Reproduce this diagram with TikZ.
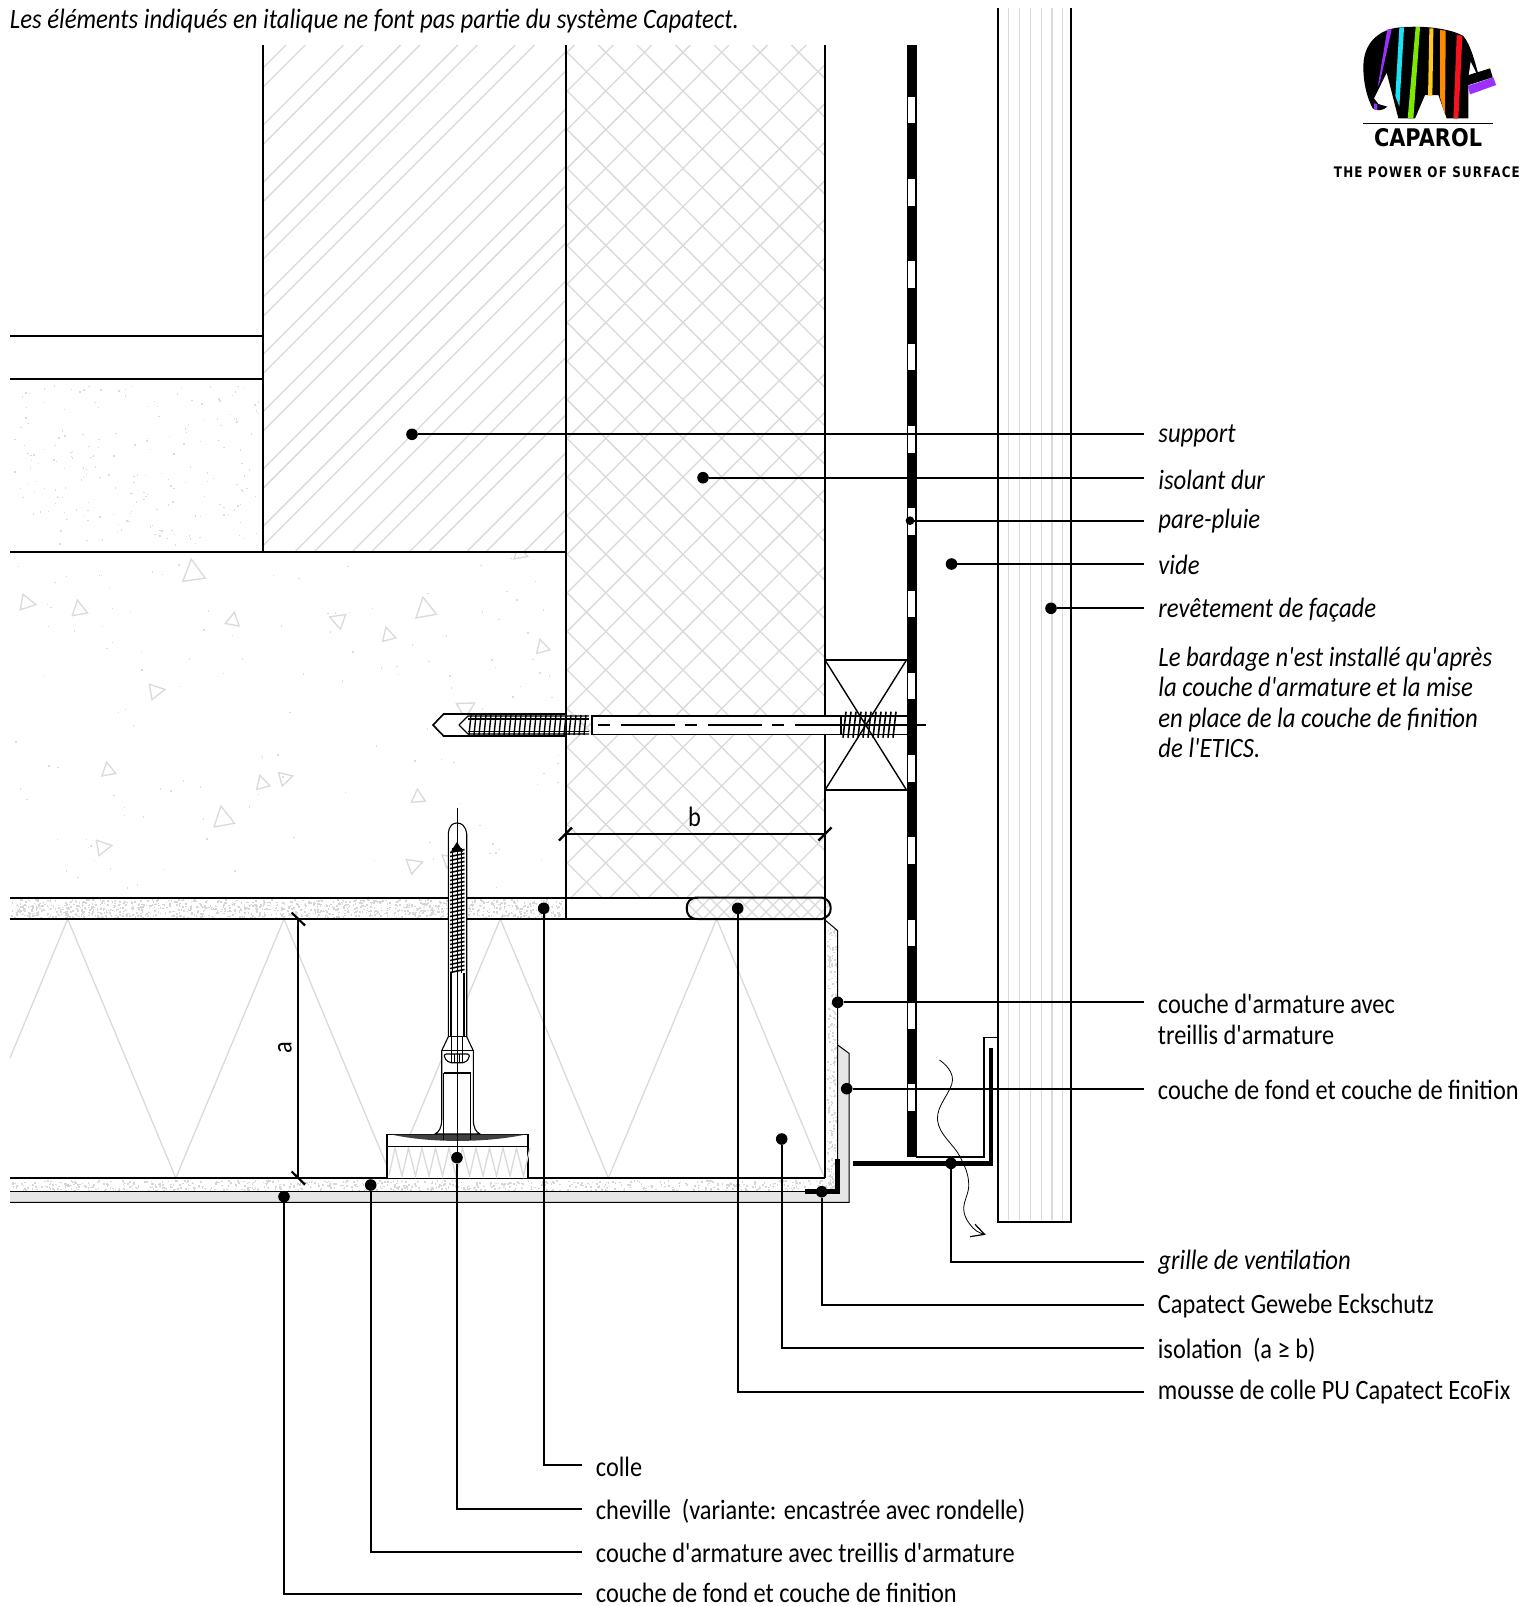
\documentclass[tikz,border=0pt]{standalone}
\usepackage{fontspec}
\usepackage{graphicx}
\setmainfont[FakeStretch=0.87,ItalicFeatures={FakeStretch=0.883},Ligatures=TeXOff]{Carlito}
\newfontfamily\logofont{DejaVu Sans}
\newfontfamily\sloganfont[LetterSpace=10]{DejaVu Sans}
\usetikzlibrary{calc}
\definecolor{hatchgray}{HTML}{DADADA}
\definecolor{speckgray}{HTML}{D6D6D6}
\definecolor{sparsegray}{HTML}{DCDCDC}
\definecolor{finishgray}{HTML}{E6E6E6}
\definecolor{logopurple}{HTML}{9B30FF}
\definecolor{logocyan}{HTML}{19E3F5}
\definecolor{logogreen}{HTML}{7FE800}
\definecolor{logoyellow}{HTML}{FFC81E}
\definecolor{logoorange}{HTML}{FF8A00}
\definecolor{logored}{HTML}{F5141E}
\tikzset{
  ol/.style={line width=1pt,draw=black},
  thinl/.style={line width=.5pt,draw=black},
  hair/.style={line width=.4pt,draw=black},
  lead/.style={line width=.85pt,draw=black},
  hatchl/.style={line width=.65pt,draw=hatchgray},
  heavy/.style={line width=2.4pt,draw=black},
  dotn/.style={circle,fill=black,inner sep=0pt,outer sep=0pt,minimum size=5.8pt},
  lab/.style={inner xsep=7pt,inner ysep=0pt,anchor=base west,yshift=-.75pt,font=\fontsize{14}{16}\selectfont},
  ilab/.style={lab,font=\fontsize{14}{16}\selectfont\itshape},
  tri/.style={line width=.65pt,draw=hatchgray}
}
\newcommand\specks[7]{\foreach \i in {1,...,#5}{\pgfmathsetmacro\sx{#1+rnd*(#2-#1)}\pgfmathsetmacro\sy{#3+rnd*(#4-#3)}\fill[#6] (\sx,\sy) rectangle ++(#7,#7);}}
\newcommand\triang[4]{\draw[tri,rotate around={#4:(#1,#2)}] ($(#1,#2)+(0,-#3)$) -- ($(#1,#2)+(.87*#3,.6*#3)$) -- ($(#1,#2)+(-.87*#3,.6*#3)$) -- cycle;}
\newcommand\foampath{(698,897.5) -- (822,897.5) .. controls (828,899) and (830.7,903) .. (830.7,908.2) .. controls (830.7,914) and (828,917) .. (822,919) -- (698,919) .. controls (690,919) and (686.7,915) .. (686.7,908.2) .. controls (686.7,902) and (690,897.5) .. (698,897.5) -- cycle}
\begin{document}
\begin{tikzpicture}[x=0.5pt,y=-0.5pt]
\useasboundingbox (0,0) rectangle (1519,1606);
\fill[white] (0,0) rectangle (1519,1606);
\pgfmathsetseed{4242}
% ---- material fills
\fill[finishgray] (837.7,1045) -- (849,1053.3) -- (849,1202.3) -- (10,1202.3) -- (10,1191.7) -- (837.7,1191.7) -- cycle;
\specks{14}{258}{385}{545}{200}{sparsegray}{1.4}
\specks{12}{560}{556}{892}{130}{sparsegray}{1.4}
\specks{10}{563}{899}{917}{1150}{speckgray}{1.6}
\specks{10}{836}{1180}{1190}{700}{speckgray}{1.6}
\specks{827}{836}{928}{1188}{220}{speckgray}{1.6}
% ---- support hatch
\begin{scope}
\clip (263,45) rectangle (566,552);
\foreach \k in {-10,...,5}{
  \pgfmathsetmacro\c{846.7+57.3*\k}
  \pgfmathsetmacro\e{866+57.3*\k}
  \draw[hatchl] (\c-40,40) -- (\c-560,560);
  \draw[hatchl] (\e-40,40) -- (\e-560,560);
}
\end{scope}
% ---- cross hatch of hard insulation
\begin{scope}
\clip (566,45) rectangle (825,897.5);
\foreach \k in {-2,...,28}{
  \pgfmathsetmacro\c{658.2+38.6*\k}
  \draw[hatchl] (\c-40,40) -- (\c-930,930);
}
\foreach \k in {-23,...,7}{
  \pgfmathsetmacro\c{514.8+38.6*\k}
  \draw[hatchl] (\c+40,40) -- (\c+930,930);
}
\end{scope}
% ---- hatch inside the foam strip
\begin{scope}
\clip \foampath;
\foreach \k in {0,...,20}{
  \pgfmathsetmacro\c{1580+14*\k}
  \pgfmathsetmacro\e{-230+14*\k}
  \draw[hatchl] (\c-880,880) -- (\c-940,940);
  \draw[hatchl] (\e+880,880) -- (\e+940,940);
}
\end{scope}
% ---- facade cladding lines
\foreach \x in {1008.7,1019.3,1030.7,1041.3,1052,1062.7}{\draw[hatchl] (\x,8) -- (\x,1220);}
% ---- concrete aggregate
\begin{scope}
\clip (10,552) rectangle (565,897);
\triang{193}{572}{13}{8}
\triang{27}{603}{9}{-100}
\triang{79}{609}{9}{10}
\triang{233}{620}{8}{-10}
\triang{338}{620}{9}{70}
\triang{388}{635}{8}{15}
\triang{425}{609}{12}{10}
\triang{542}{647}{8}{15}
\triang{156}{691}{9}{-80}
\triang{466}{708}{10}{-60}
\triang{108}{770}{8}{10}
\triang{262}{783}{8}{15}
\triang{285}{778}{8}{-75}
\triang{418}{797}{8}{5}
\triang{223}{818}{12}{10}
\triang{103}{847}{9}{-80}
\triang{414}{865}{9}{-70}
\triang{449}{860}{8}{-70}
\triang{520}{553}{8}{10}
\end{scope}
% ---- mineral wool zigzag
\draw[hatchl] (10,1058) -- (67.7,919) -- (175.8,1178) -- (284,919) -- (392,1178) -- (500.3,919) -- (608.4,1178) -- (716.6,919) -- (824.7,1178);
% ---- main outlines
\draw[ol] (10,335.5) -- (263,335.5);
\draw[ol] (10,379) -- (263,379);
\draw[ol] (263,45) -- (263,552);
\draw[ol] (10,552) -- (565.5,552);
\draw[ol] (565.5,45) -- (565.5,919);
\draw[ol] (825,45) -- (825,1178);
\draw[ol] (10,897.5) -- (698,897.5);
\draw[ol] (10,919) -- (698,919);
\draw[ol] \foampath;
\draw[ol] (10,1178) -- (825,1178);
\draw[thinl] (825,920) -- (837.7,930.7) -- (837.7,1159);
\draw[thinl] (10,1191.7) -- (805,1191.7);
\draw[thinl] (837.7,1045) -- (849,1053.3) -- (849,1202.3) -- (10,1202.3);
% ---- corner protection
\draw[line width=2.5pt,draw=black] (837.7,1159.3) -- (837.7,1191.7) -- (805,1191.7);
% ---- rain screen membrane
\fill[black] (906.7,45) rectangle (916.7,1157.3);
\foreach \k in {0,...,12}{\pgfmathsetmacro\wy{96.7+82.3*\k}\fill[white] (908.4,\wy) rectangle (914.9,\wy+26.6);}
% ---- cladding board
\draw[ol] (998,8) -- (998,1221.7) -- (1071.2,1221.7) -- (1071.2,8);
% ---- ventilation profile
\draw[thinl,line width=.8pt] (998,1037.3) -- (984,1037.3) -- (984,1156.7) -- (916,1156.7);
\draw[heavy] (991,1048.3) -- (991,1163.7) -- (852.7,1163.7);
% ---- air flow
\draw[hair] plot[smooth,tension=.7] coordinates {(939.4,1060) (952.5,1080) (937.5,1120) (960,1156.7) (968.7,1183.3) (963.8,1210) (973,1228) (984.5,1234.3)};
\draw[hair,line width=.6pt] (975,1224.3) -- (984.5,1234.3) -- (970,1236.7);
% ---- batten
\draw[ol] (825,660) -- (906.5,660);
\draw[ol] (825,790) -- (906.5,790);
\draw[line width=.7pt] (825,660) -- (906.5,790);
\draw[line width=.7pt] (906.5,660) -- (825,790);
% ---- horizontal fixing
\draw[ol,fill=white,line width=.8pt] (565,714) -- (443.6,714) -- (433,725) -- (443.6,736) -- (565,736);
\foreach \x in {470,475,...,588}{\draw[line width=.7pt] (\x+1,715) -- (\x-1,735);}
\draw[line width=.6pt] (459,725) -- (468,716) -- (589,716);
\draw[line width=.6pt] (459,725) -- (468,734) -- (589,734);
\draw[line width=.6pt] (468,719) -- (589,719) (468,731.5) -- (589,731.5);
\draw[line width=.8pt,fill=white] (591.8,716) rectangle (841,734.3);
\draw[line width=.8pt,dash pattern=on 6pt off 5.5pt on 27pt off 5pt] (598,725) -- (841,725);
\draw[line width=.8pt] (841,716) -- (906.5,716) (841,734.3) -- (906.5,734.3);
\draw[line width=.8pt] (841,725) -- (925.7,725);
\foreach \x in {844,849,...,894}{\draw[line width=.8pt] (\x+2,711.7) -- (\x-1,737.7);}
% ---- vertical anchor with disc
\draw[thinl,line width=.55pt,fill=white] (448.3,973) -- (448.3,834) .. controls (449,825) and (453,823) .. (457,823) .. controls (461,823) and (465.5,825) .. (466.7,834) -- (466.7,973) -- (466.7,1036.7) -- (473.3,1050.7) -- (473.3,1120) .. controls (473.5,1128) and (476,1132) .. (480,1134) -- (435,1134) .. controls (439,1132) and (441.5,1128) .. (441.7,1120) -- (441.7,1050.7) -- (448.3,1036.7) -- cycle;
\draw[thinl,fill=white,line width=.8pt] (386.7,1178) -- (386.7,1134.3) -- (527.7,1134.3) -- (527.7,1178);
\draw[hatchl] (389,1175) \foreach \k in {0,...,9}{ -- (395+13.5*\k,1148) -- (402+13.5*\k,1176)} -- (530,1148);
\draw[thinl] (386.7,1146) -- (527.7,1146);
\fill[black!75] (391.7,1134.6) .. controls (430,1143) and (485,1143) .. (525,1134.6) -- cycle;
\draw[thinl,line width=.55pt] (448.3,1036.7) -- (466.7,1036.7);
\draw[thinl,line width=.55pt] (441.7,1050.7) -- (473.3,1050.7);
\draw[thinl,line width=.55pt] (451,973) -- (451,1036.7) (464,973) -- (464,1036.7);
\draw[thinl,line width=.55pt] (443.7,1073) -- (443.7,1140) (470.7,1073) -- (470.7,1140) (443.7,1073) -- (470.7,1073);
\draw[thinl,line width=.55pt,rounded corners=1pt] (444.3,1054) -- (469.3,1054) -- (469.3,1058) -- (465,1062.7) -- (449,1062.7) -- (444.3,1058) -- cycle;
\draw[thinl,line width=.55pt] (451.7,1036.7) -- (451.7,1062) (454.5,1054) -- (454.5,1062) (459.5,1054) -- (459.5,1062) (462.3,1036.7) -- (462.3,1062);
\draw[line width=.4pt] (457,807.7) -- (457,1157);
\draw[line width=.6pt,fill=black] (452,851) -- (457,843) -- (462,851) -- cycle;
\draw[line width=.6pt] (452.3,848) -- (452.3,973) (461.7,848) -- (461.7,973);
\foreach \y in {851,855,...,971}{\draw[line width=.8pt] (450,\y+1.5) -- (464.5,\y-1.5);}
% ---- dimensions
\coordinate (a1) at (298.3,919);
\coordinate (a2) at (298.3,1178);
\draw[lead] (a1) -- (a2);
\draw[line width=1.1pt] ($(a1)+(-6.7,-6.5)$) -- ($(a1)+(6.7,6.5)$);
\draw[line width=1.1pt] ($(a2)+(-6.7,-6.5)$) -- ($(a2)+(6.7,6.5)$);
\node[rotate=90,inner sep=0pt,font=\fontsize{14}{16}\selectfont] (dima) at (285,1048) {a};
\coordinate (b1) at (565.5,834);
\coordinate (b2) at (825,834);
\draw[lead] (b1) -- (b2);
\draw[line width=1.1pt] ($(b1)+(-6.5,6.5)$) -- ($(b1)+(6.5,-6.5)$);
\draw[line width=1.1pt] ($(b2)+(-6.5,6.5)$) -- ($(b2)+(6.5,-6.5)$);
\node[inner sep=0pt,font=\fontsize{14}{16}\selectfont] (dimb) at (694.6,817) {b};
% ---- dots
\node[dotn] (d1) at (412,434.3) {};
\node[dotn] (d2) at (703,477.7) {};
\node[dotn,minimum size=4.4pt] (d3) at (910,520.7) {};
\node[dotn] (d4) at (951.5,564) {};
\node[dotn] (d5) at (1051,608.3) {};
\node[dotn] (d6) at (837.7,1002.3) {};
\node[dotn] (d7) at (846.7,1088.7) {};
\node[dotn] (d8) at (951,1163.3) {};
\node[dotn] (d9) at (821.7,1191.7) {};
\node[dotn] (d10) at (781.7,1139) {};
\node[dotn] (d11) at (737.7,908.3) {};
\node[dotn] (d12) at (543.7,908.3) {};
\node[dotn] (d13) at (457,1157.7) {};
\node[dotn] (d14) at (370.7,1185) {};
\node[dotn] (d15) at (284,1196.7) {};
% ---- labels
\node[ilab] (top) at (-4.5,26.6) {Les éléments indiqués en italique ne font pas partie du système Capatect.};
\node[ilab] (l1) at (1144,440.7) {support};
\node[ilab] (l2) at (1144,487.7) {isolant dur};
\node[ilab] (l3) at (1144,527.3) {pare-pluie};
\node[ilab] (l4) at (1144,573.3) {vide};
\node[ilab] (l5) at (1144,615.7) {revêtement de façade};
\node[ilab] (p1) at (1144,665) {Le bardage n'est installé qu'après};
\node[ilab] (p2) at (1144,695) {la couche d'armature et la mise};
\node[ilab] (p3) at (1144,725.7) {en place de la couche de finition};
\node[ilab] (p4) at (1144,755.7) {de l'ETICS.};
\node[lab] (l6) at (1143.5,1011.7) {couche d'armature avec};
\node[lab] (l6b) at (1143.5,1042.7) {treillis d'armature};
\node[lab] (l7) at (1143.5,1098.3) {couche de fond et couche de finition};
\node[ilab] (l8) at (1144,1268.3) {grille de ventilation};
\node[lab] (l9) at (1143.5,1311.7) {Capatect Gewebe Eckschutz};
\node[lab] (l10) at (1143.5,1356.7) {isolation\ \ (a ≥ b)};
\node[lab] (l11) at (1143.5,1398.3) {mousse de colle PU Capatect EcoFix};
\node[lab] (l12) at (581.5,1475) {colle};
\node[lab] (l13) at (581.5,1517.7) {cheville\ \ (variante: encastrée avec rondelle)};
\node[lab] (l14) at (581.5,1561) {couche d'armature avec treillis d'armature};
\node[lab] (l15) at (581.5,1600.5) {couche de fond et couche de finition};
% ---- leaders
\draw[lead] (d1) -- (d1 -| l1.west);
\draw[lead] (d2) -- (d2 -| l2.west);
\draw[lead] (d3) -- (d3 -| l3.west);
\draw[lead] (d4) -- (d4 -| l4.west);
\draw[lead] (d5) -- (d5 -| l5.west);
\draw[lead] (d6) -- (d6 -| l6.west);
\draw[lead] (d7) -- (d7 -| l7.west);
\coordinate (e8) at (l8.west |- 0,1261.7);
\coordinate (e9) at (l9.west |- 0,1305);
\coordinate (e10) at (l10.west |- 0,1348.3);
\coordinate (e11) at (l11.west |- 0,1391.7);
\coordinate (e12) at (l12.west |- 0,1465);
\coordinate (e13) at (l13.west |- 0,1509);
\coordinate (e14) at (l14.west |- 0,1551.7);
\coordinate (e15) at (l15.west |- 0,1594.3);
\draw[lead] (d8) |- (e8);
\draw[lead] (d9) |- (e9);
\draw[lead] (d10) |- (e10);
\draw[lead] (d11) |- (e11);
\draw[lead] (d12) |- (e12);
\draw[lead] (d13) |- (e13);
\draw[lead] (d14) |- (e14);
\draw[lead] (d15) |- (e15);
% ---- logo
\begin{scope}[shift={(1300,0)},x=0.1667pt,y=-0.1667pt]
\fill[black] (190,200) .. controls (190,130) and (235,88) .. (300,82) .. controls (370,76) and (450,85) .. (490,108) .. controls (515,140) and (525,190) .. (535,222) -- (505,256) -- (505,355) -- (440,355) -- (415,285) -- (375,285) -- (345,355) -- (295,355) -- (260,218) -- (222,295) -- (235,312) -- (262,320) .. controls (250,332) and (230,334) .. (218,325) .. controls (200,290) and (190,250) .. (190,200) -- cycle;
\fill[white] (512,185) -- (528,218) -- (506,226) -- cycle;
\fill[black] (503,226) -- (570,205) -- (578,232) -- (503,256) -- cycle;
\fill[logopurple] (503,258) -- (580,232) -- (588,255) -- (510,283) -- cycle;
\fill[logopurple] (262,88) -- (275,88) -- (240,245) -- (233,260) -- cycle;
\fill[logopurple] (222,310) -- (232,312) -- (232,330) -- (222,328) -- cycle;
\fill[logocyan] (298,82) -- (312,82) -- (298,320) -- (286,288) -- cycle;
\fill[logogreen] (347,80) -- (360,82) -- (340,355) -- (323,355) -- cycle;
\fill[logoyellow] (388,85) -- (400,85) -- (397,287) -- (384,287) -- cycle;
\fill[logoorange] (420,90) -- (437,92) -- (435,345) -- (420,292) -- cycle;
\fill[logored] (470,105) -- (487,108) -- (475,355) -- (460,355) -- cycle;
\draw[black,line width=.6pt] (190,371) -- (578,371);
\end{scope}
\node[inner sep=0pt] (capa) at (1428,137.5) {\resizebox{54pt}{9pt}{\logofont\bfseries CAPAROL}};
\node[inner sep=0pt,anchor=west] (slog) at (1333.5,172.5) {\resizebox{93pt}{5.4pt}{\sloganfont\bfseries THE POWER OF SURFACE}};
\end{tikzpicture}
\end{document}
